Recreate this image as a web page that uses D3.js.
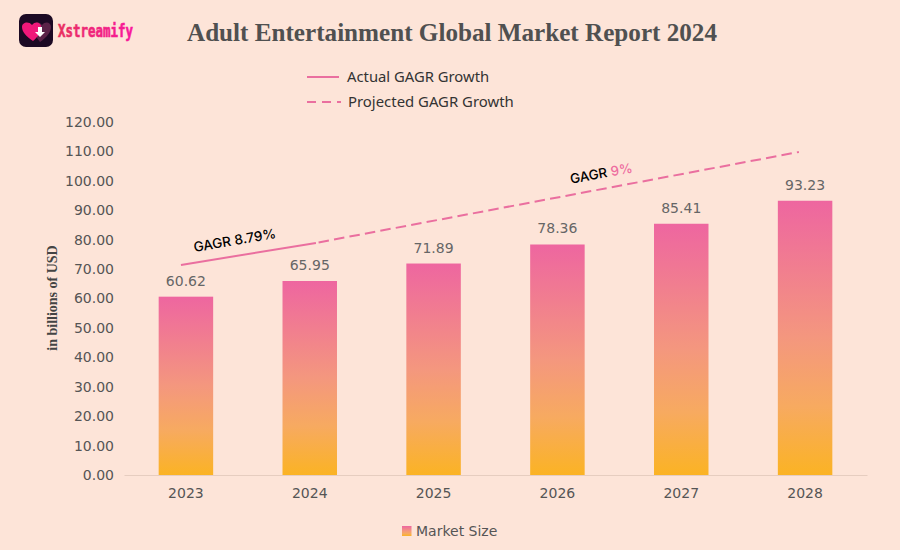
<!DOCTYPE html>
<html>
<head>
<meta charset="utf-8">
<script src="https://cdn.jsdelivr.net/npm/d3@7"></script>
<style>
  html, body { margin: 0; padding: 0; background: #fde4d8; }
  svg { display: block; }
  text { font-family: "DejaVu Sans", sans-serif; }
</style>
</head>
<body>
<div class="chart"></div>
<script>
var svgWidth = 900;
var svgHeight = 550;

// values
var years = ["2023", "2024", "2025", "2026", "2027", "2028"];
var marketSize = [60.62, 65.95, 71.89, 78.36, 85.41, 93.23];
var yTicks = [0, 10, 20, 30, 40, 50, 60, 70, 80, 90, 100, 110, 120];

// trend lines, x is a fractional year
var actualYears = [2022.96, 2024.05];
var actualLevels = [71.4, 78.9];
var projectedYears = [2024.05, 2027.95];
var projectedLevels = [78.9, 109.8];

var margin = { top: 122, right: 33, bottom: 75, left: 124 };
var width = svgWidth - margin.left - margin.right;
var height = svgHeight - margin.top - margin.bottom;

var svg = d3.select(".chart")
  .append("svg")
  .attr("width", svgWidth)
  .attr("height", svgHeight);

var defs = svg.append("defs");

// bars all share the same colour span, so use the bbox of each one
var barGrad = defs.append("linearGradient")
  .attr("id", "barGrad")
  .attr("x1", 0).attr("x2", 0).attr("y1", 0).attr("y2", 1);
barGrad.append("stop").attr("offset", "0%").attr("stop-color", "#ee66a0");
barGrad.append("stop").attr("offset", "50%").attr("stop-color", "#f4977e");
barGrad.append("stop").attr("offset", "75%").attr("stop-color", "#f7aa60");
barGrad.append("stop").attr("offset", "100%").attr("stop-color", "#fbb324");

var logoGrad = defs.append("linearGradient")
  .attr("id", "logoGrad")
  .attr("x1", 0).attr("x2", 1).attr("y1", 0).attr("y2", 0);
logoGrad.append("stop").attr("offset", "0%").attr("stop-color", "#e8305f");
logoGrad.append("stop").attr("offset", "100%").attr("stop-color", "#f8189c");

var chartGroup = svg.append("g")
  .attr("transform", `translate(${margin.left}, ${margin.top})`);

var xScale = d3.scaleBand()
  .domain(years)
  .range([0, width])
  .paddingInner(0.56)
  .paddingOuter(0.28);

var yScale = d3.scaleLinear()
  .domain([0, 120])
  .range([height, 0]);

// same centres as the band scale, for the trend lines
var yearScale = d3.scaleLinear()
  .domain([2023, 2028])
  .range([xScale("2023") + xScale.bandwidth() / 2, xScale("2028") + xScale.bandwidth() / 2]);

// axes
var xAxis = chartGroup.append("g")
  .attr("transform", `translate(0, ${height})`)
  .call(d3.axisBottom(xScale).tickSize(0).tickPadding(13));
xAxis.select(".domain").attr("stroke", "#e6cdc0");
xAxis.selectAll("text").attr("font-size", 14).attr("fill", "#555");

var yAxis = chartGroup.append("g")
  .call(d3.axisLeft(yScale).tickValues(yTicks).tickFormat(d3.format(".2f")).tickSize(0).tickPadding(10));
yAxis.select(".domain").remove();
yAxis.selectAll("text").attr("font-size", 14).attr("fill", "#555");

// bars
chartGroup.selectAll(".bar")
  .data(marketSize)
  .enter()
  .append("rect")
  .attr("class", "bar")
  .attr("x", (d, i) => xScale(years[i]))
  .attr("y", d => yScale(d))
  .attr("width", xScale.bandwidth())
  .attr("height", d => height - yScale(d))
  .attr("fill", "url(#barGrad)");

chartGroup.selectAll(".bar-label")
  .data(marketSize)
  .enter()
  .append("text")
  .attr("class", "bar-label")
  .attr("x", (d, i) => xScale(years[i]) + xScale.bandwidth() / 2)
  .attr("y", d => yScale(d) - 11)
  .attr("text-anchor", "middle")
  .attr("font-size", 14)
  .attr("fill", "#666")
  .text(d => d.toFixed(2));

// trend lines
var trendLine = d3.line()
  .x(d => yearScale(d[0]))
  .y(d => yScale(d[1]));

chartGroup.append("path")
  .attr("d", trendLine(d3.zip(actualYears, actualLevels)))
  .attr("fill", "none")
  .attr("stroke", "#ea6f9f")
  .attr("stroke-width", 2);

// offset so the dashes start with a small gap after the solid part
chartGroup.append("path")
  .attr("d", trendLine(d3.zip(projectedYears, projectedLevels)))
  .attr("fill", "none")
  .attr("stroke", "#ea6f9f")
  .attr("stroke-width", 2)
  .attr("stroke-dasharray", "10.5 5.2")
  .attr("stroke-dashoffset", 13);

// trend annotations
svg.append("text")
  .attr("transform", "translate(235.5, 245) rotate(-9.8)")
  .attr("text-anchor", "middle")
  .attr("font-size", 13.6)
  .attr("font-weight", 500)
  .attr("fill", "#000")
  .style("font-family", "Inter, sans-serif")
  .text("GAGR 8.79%");

var gagrNine = svg.append("text")
  .attr("transform", "translate(602, 178) rotate(-10.3)")
  .attr("text-anchor", "middle")
  .attr("font-size", 13.5)
  .attr("font-weight", 500)
  .style("font-family", "Inter, sans-serif");
gagrNine.append("tspan").attr("fill", "#000").text("GAGR ");
gagrNine.append("tspan").attr("fill", "#ee6d9f").text("9%");

// title
svg.append("text")
  .attr("x", 452)
  .attr("y", 41)
  .attr("text-anchor", "middle")
  .attr("font-size", 25.15)
  .attr("font-weight", "bold")
  .attr("fill", "#505050")
  .style("font-family", "'Liberation Serif', serif")
  .text("Adult Entertainment Global Market Report 2024");

// y axis title
svg.append("text")
  .attr("transform", "translate(56.5, 298) rotate(-90)")
  .attr("text-anchor", "middle")
  .attr("font-size", 14)
  .attr("font-weight", "bold")
  .attr("fill", "#444")
  .style("font-family", "'Liberation Serif', serif")
  .text("in billions of USD");

// top legend
var topLegend = svg.append("g");
topLegend.append("line")
  .attr("x1", 307).attr("x2", 339).attr("y1", 77).attr("y2", 77)
  .attr("stroke", "#ea6f9f").attr("stroke-width", 2);
topLegend.append("line")
  .attr("x1", 307).attr("x2", 341).attr("y1", 102).attr("y2", 102)
  .attr("stroke", "#ea6f9f").attr("stroke-width", 2)
  .attr("stroke-dasharray", "9 6");
topLegend.append("text")
  .attr("x", 347).attr("y", 82)
  .attr("font-size", 14.8).attr("fill", "#333")
  .style("font-family", "'Noto Sans', sans-serif")
  .text("Actual GAGR Growth");
topLegend.append("text")
  .attr("x", 348).attr("y", 107)
  .attr("font-size", 14.9).attr("fill", "#333")
  .style("font-family", "'Noto Sans', sans-serif")
  .text("Projected GAGR Growth");

// bottom legend
svg.append("rect")
  .attr("x", 402).attr("y", 526)
  .attr("width", 9.5).attr("height", 10)
  .attr("fill", "url(#barGrad)");
svg.append("text")
  .attr("x", 416).attr("y", 536)
  .attr("font-size", 14).attr("fill", "#555")
  .text("Market Size");

// logo
var logo = svg.append("g").attr("transform", "translate(19, 14)");
logo.append("rect")
  .attr("width", 34).attr("height", 33).attr("rx", 7)
  .attr("fill", "#1c0a24");
logo.append("path")
  .attr("d", "M21 28 C28 23 32 18 32 13 C32 8 26 7 23 11 C20 7 14 8 14 13 C14 18 17 23 21 28 Z")
  .attr("fill", "#5a2348");
logo.append("path")
  .attr("d", "M14 27 C7 22 3 18 3 13 C3 8 10 7 13 11 C16 7 22 8 22 13 C22 18 19 23 14 27 Z")
  .attr("fill", "#f0187a");
logo.append("path")
  .attr("d", "M19 13 H23 V18 H26 L21 23 L16 18 H19 Z")
  .attr("fill", "#fff");
svg.append("text")
  .attr("x", 58).attr("y", 37)
  .attr("font-size", 17)
  .attr("font-weight", "bold")
  .attr("textLength", 75)
  .attr("lengthAdjust", "spacingAndGlyphs")
  .attr("fill", "url(#logoGrad)")
  .attr("stroke", "url(#logoGrad)")
  .attr("stroke-width", 0.6)
  .style("font-family", "'DejaVu Sans Mono', monospace")
  .text("Xstreamify");
</script>
</body>
</html>
